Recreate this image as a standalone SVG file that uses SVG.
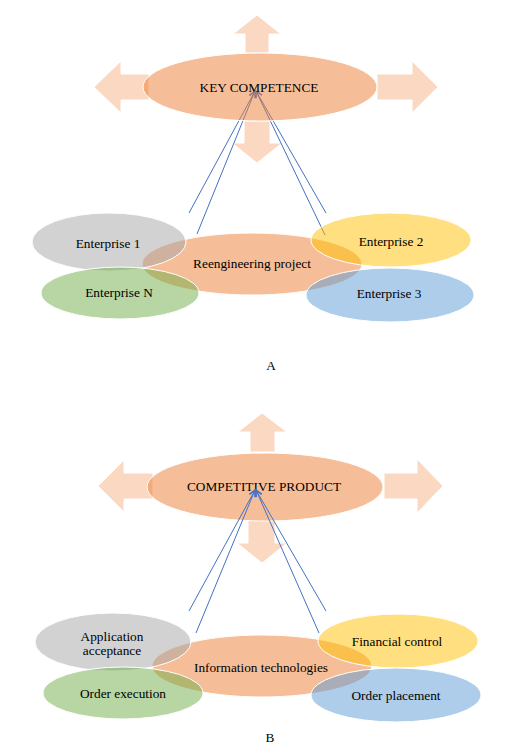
<svg xmlns="http://www.w3.org/2000/svg" width="518" height="746" viewBox="0 0 518 746">
<style>
.bg{fill:#ffffff}
.arr{fill:#ED7D31;fill-opacity:0.3;stroke:#ffffff;stroke-width:1}
.el{stroke:#ffffff;stroke-width:1}
.org{fill:#ED7D31;fill-opacity:0.5}
.gry{fill:#A5A5A5;fill-opacity:0.5}
.grn{fill:#70AD47;fill-opacity:0.5}
.yel{fill:#FFC000;fill-opacity:0.5}
.blu{fill:#5B9BD5;fill-opacity:0.5}
.ln{stroke:#4472C4;stroke-width:1;fill:none;marker-end:url(#ah)}
text{font-family:"Liberation Serif","Times New Roman",serif;font-size:13.3px;fill:#000000;text-anchor:middle;dominant-baseline:central}
</style>
<defs>
<marker id="ah" viewBox="0 0 10 10" refX="9" refY="5" markerWidth="8" markerHeight="8" markerUnits="userSpaceOnUse" orient="auto">
<path d="M1,1 L9,5 L1,9" fill="none" stroke="#4472C4" stroke-width="1.4"/>
</marker>
</defs>
<rect class="bg" x="0" y="0" width="518" height="746"/>

<!-- Diagram A -->
<g id="a-arrows">
<polygon class="arr" points="245,53 245,34 233,34 257,15 281,34 269,34 269,53"/>
<polygon class="arr" points="149,74 121,74 121,61 94,87 121,113 121,100 149,100"/>
<polygon class="arr" points="377,74 412,74 412,61 438,87 412,113 412,100 377,100"/>
<polygon class="arr" points="244,121 270,121 270,143 282,143 257,163 232,143 244,143"/>
</g>
<g id="a-connectors">
<line class="ln" x1="189" y1="213" x2="255" y2="91"/>
<line class="ln" x1="197" y1="234" x2="255" y2="91"/>
<line class="ln" x1="326" y1="213" x2="256" y2="91"/>
<line class="ln" x1="325" y1="235" x2="256" y2="91"/>
</g>
<g id="a-key">
<ellipse class="el org" cx="260" cy="87" rx="117" ry="34"/>
<text x="259" y="87">KEY COMPETENCE</text>
</g>
<g id="a-reeng">
<ellipse class="el org" cx="252" cy="264" rx="110" ry="31"/>
</g>
<g id="a-ent1">
<ellipse class="el gry" cx="109" cy="242" rx="77" ry="29"/>
</g>
<g id="a-entN">
<ellipse class="el grn" cx="120" cy="293" rx="79" ry="26"/>
</g>
<g id="a-ent2">
<ellipse class="el yel" cx="391" cy="240" rx="80" ry="27"/>
</g>
<g id="a-ent3">
<ellipse class="el blu" cx="390" cy="295" rx="84" ry="27"/>
</g>
<g id="a-labels">
<text x="108" y="243">Enterprise 1</text>
<text x="252" y="263">Reengineering project</text>
<text x="119" y="292">Enterprise N</text>
<text x="391" y="241">Enterprise 2</text>
<text x="389" y="293">Enterprise 3</text>
<text x="271" y="365">A</text>
</g>

<!-- Diagram B -->
<g id="b-arrows">
<polygon class="arr" points="250,452 250,432 238,432 262,413 287,432 275,432 275,452"/>
<polygon class="arr" points="153,473 124,473 124,460 98,486 124,512 124,499 153,499"/>
<polygon class="arr" points="384,473 417,473 417,459 443,486 417,513 417,499 384,499"/>
<polygon class="arr" points="248,520 275,520 275,543 287,543 262,563 237,543 248,543"/>
</g>
<g id="b-product">
<ellipse class="el org" cx="265" cy="487" rx="118" ry="34"/>
<text x="264" y="486">COMPETITIVE PRODUCT</text>
</g>
<g id="b-it">
<ellipse class="el org" cx="262" cy="666" rx="110" ry="31"/>
</g>
<g id="b-appl">
<ellipse class="el gry" cx="113" cy="642" rx="78" ry="29"/>
</g>
<g id="b-exec">
<ellipse class="el grn" cx="123" cy="693" rx="80" ry="26"/>
</g>
<g id="b-fin">
<ellipse class="el yel" cx="398" cy="641" rx="80" ry="27"/>
</g>
<g id="b-place">
<ellipse class="el blu" cx="396" cy="695" rx="85" ry="27"/>
</g>
<g id="b-connectors">
<line class="ln" x1="189" y1="611" x2="255" y2="490"/>
<line class="ln" x1="196" y1="633" x2="255" y2="490"/>
<line class="ln" x1="326" y1="611" x2="256" y2="490"/>
<line class="ln" x1="319" y1="633" x2="256" y2="490"/>
</g>
<g id="b-labels">
<text x="112" y="636">Application</text>
<text x="112" y="650">acceptance</text>
<text x="261" y="667">Information technologies</text>
<text x="123" y="693">Order execution</text>
<text x="397" y="641">Financial control</text>
<text x="396" y="695">Order placement</text>
<text x="270" y="737">B</text>
</g>
</svg>
